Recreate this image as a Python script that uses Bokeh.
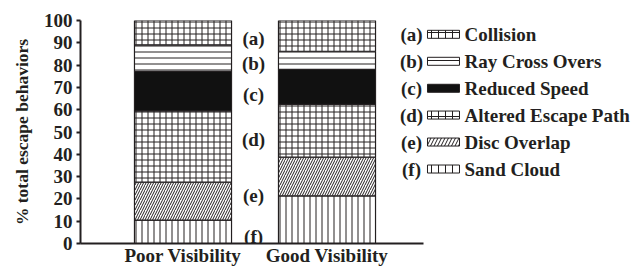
from bokeh.plotting import figure
from bokeh.models import Range1d, FixedTicker, ColumnDataSource
from bokeh.core.properties import value
from bokeh.embed import file_html
from bokeh.resources import INLINE

# ---- data ----
categories = ["Poor Visibility", "Good Visibility"]
cat_x = [1, 2]
letters = ["(a)", "(b)", "(c)", "(d)", "(e)", "(f)"]
behaviors = ["Collision", "Ray Cross Overs", "Reduced Speed",
             "Altered Escape Path", "Disc Overlap", "Sand Cloud"]
# percent of total escape behaviors, listed (a) .. (f)
poor = [10.9, 11.9, 17.7, 32.0, 17.0, 10.5]
good = [13.8, 8.1, 15.7, 23.7, 17.3, 21.4]
yticks = [0, 10, 20, 30, 40, 50, 60, 70, 80, 90, 100]

# ---- styles ----
patterns = ["cross", "horizontal_line", " ", "cross", "right_diagonal_line", "vertical_line"]
scales = [6, 6, 6, 6, 5, 6]
fills = ["white", "white", "#111111", "white", "white", "white"]
INK = "#231f20"
FONT = value("Liberation Serif")
FS = "19px"

# label positions (layout)
letter_x = 1.49
letter_y = [91.8, 80.7, 66.8, 46.7, 21.4, 3.0]
leg_prefix_x = 2.587
leg_swatch_x = 2.809
leg_label_x = 2.955
leg_y = [93.8, 81.7, 69.6, 57.6, 45.5, 33.4]

p = figure(width=635, height=268,
           x_range=Range1d(0.2882, 4.1424), y_range=Range1d(0, 100),
           output_backend="svg", toolbar_location=None,
           min_border_left=80, min_border_right=0,
           min_border_top=20, min_border_bottom=20)
p.xgrid.visible = False
p.ygrid.visible = False
p.outline_line_color = None
p.background_fill_color = "white"

# stacked bars (bottom = (f))
data = {"x": cat_x}
for b, vp, vg in zip(behaviors, poor, good):
    data[b] = [vp, vg]
src = ColumnDataSource(data)
order = list(range(len(behaviors)))[::-1]
stackers = [behaviors[i] for i in order]
p.vbar_stack(stackers, x="x", width=0.674, source=src,
             fill_color=[fills[i] for i in order],
             hatch_pattern=[patterns[i] for i in order],
             hatch_scale=[scales[i] for i in order],
             hatch_color=INK, hatch_weight=1,
             line_color=INK, line_width=1.2)

# letter labels between bars
p.text(x=[letter_x] * len(letters), y=letter_y, text=letters,
       text_font=FONT, text_font_style="bold", text_font_size=FS,
       text_align="center", text_baseline="middle", text_color=INK)

# legend (manual)
leg = ColumnDataSource(dict(y=leg_y, letters=letters, names=behaviors,
                            fill=fills, pat=patterns))
p.text(x=leg_prefix_x, y="y", text="letters", source=leg,
       text_font=FONT, text_font_style="bold", text_font_size=FS,
       text_align="center", text_baseline="middle", text_color=INK)
p.rect(x=leg_swatch_x, y="y", width=32, height=8, width_units="screen",
       height_units="screen", source=leg, fill_color="fill",
       hatch_pattern="pat", hatch_scale=7, hatch_color=INK, hatch_weight=1,
       line_color=INK, line_width=1)
p.text(x=leg_label_x, y="y", text="names", source=leg,
       text_font=FONT, text_font_style="bold", text_font_size=FS,
       text_align="left", text_baseline="middle", text_color=INK)

# axes
xa = p.xaxis[0]
xa.ticker = FixedTicker(ticks=cat_x)
xa.major_label_overrides = {x: c for x, c in zip(cat_x, categories)}
xa.major_tick_out = 0
xa.major_tick_in = 0
xa.minor_tick_out = 0
xa.minor_tick_in = 0
xa.axis_line_width = 2
xa.axis_line_color = INK
xa.bounds = (0.27, 2.67)
xa.major_label_standoff = 1
xa.major_label_text_font = "Liberation Serif"
xa.major_label_text_font_style = "bold"
xa.major_label_text_font_size = FS
xa.major_label_text_color = INK

ya = p.yaxis[0]
ya.ticker = FixedTicker(ticks=yticks)
ya.major_tick_out = 4
ya.major_tick_in = 0
ya.minor_tick_out = 0
ya.minor_tick_in = 0
ya.axis_line_width = 2
ya.axis_line_color = INK
ya.major_tick_line_width = 2
ya.major_tick_line_color = INK
ya.major_label_standoff = 4
ya.major_label_text_font = "Liberation Serif"
ya.major_label_text_font_style = "bold"
ya.major_label_text_font_size = FS
ya.major_label_text_color = INK
ya.axis_label = "% total escape behaviors"
ya.axis_label_text_font = "Liberation Serif"
ya.axis_label_text_font_style = "bold"
ya.axis_label_text_font_size = "17.5px"
ya.axis_label_text_color = INK
ya.axis_label_standoff = 9

open("out.html", "w").write(file_html(p, INLINE))
